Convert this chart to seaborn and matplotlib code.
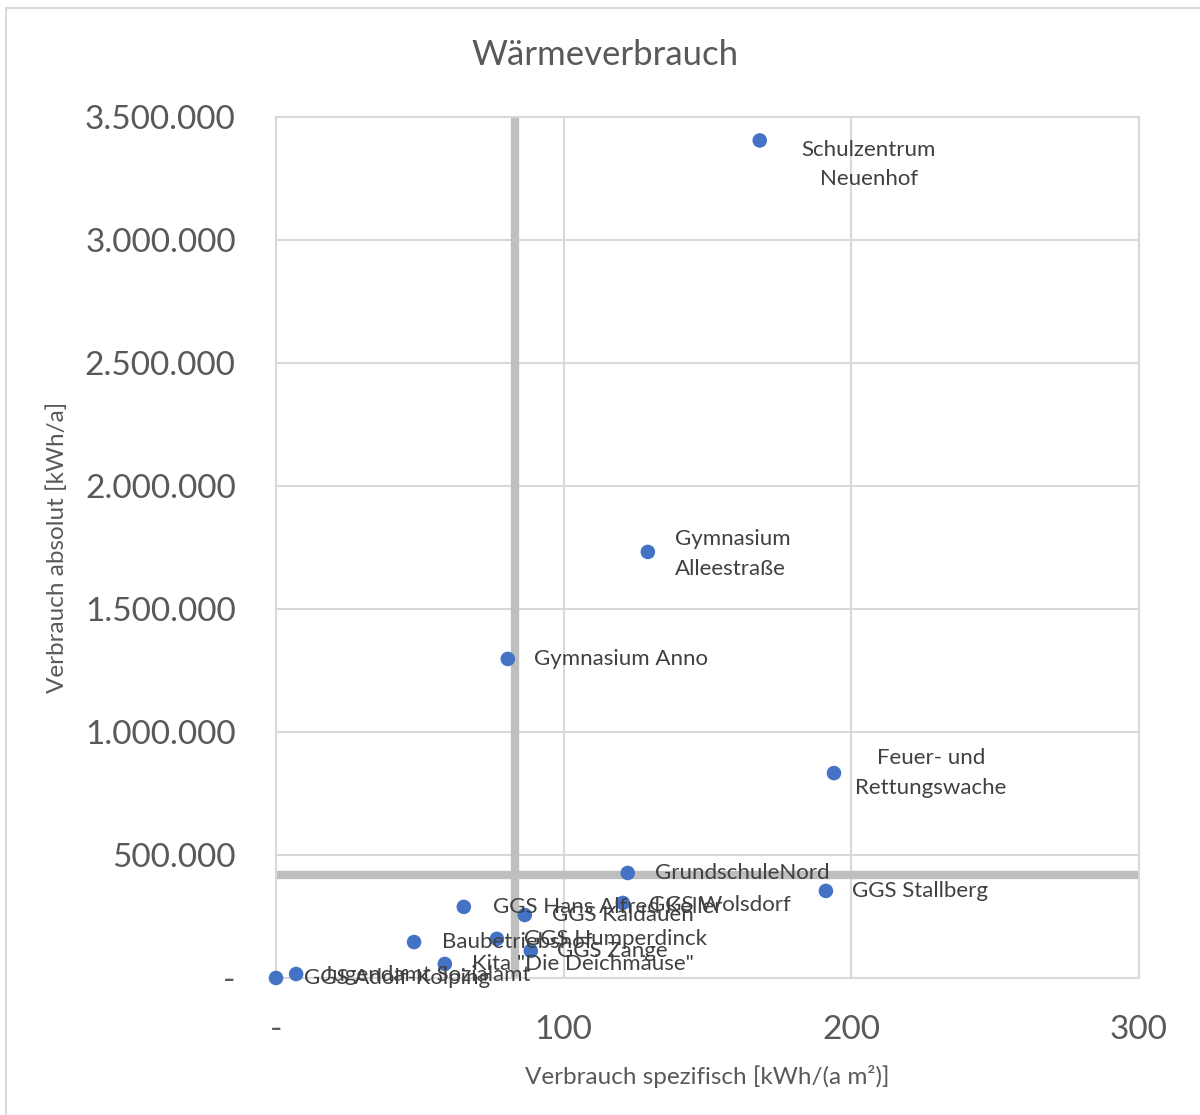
import matplotlib
matplotlib.use("Agg")
import matplotlib.pyplot as plt
from matplotlib.lines import Line2D
from matplotlib.ticker import FuncFormatter, MultipleLocator
import seaborn as sns
import pandas as pd

# Buildings: specific consumption [kWh/(a m²)] and absolute consumption [kWh/a]
gebaeude = [
    "Schulzentrum\nNeuenhof",
    "Gymnasium\nAlleestraße",
    "Gymnasium Anno",
    "Feuer- und\nRettungswache",
    "GrundschuleNord",
    "GGS Stallberg",
    "GGS Wolsdorf",
    "GGS Hans Alfred Keller",
    "GGS Kaldauen",
    "Baubetriebshof",
    "GGS Humperdinck",
    "GGS Zange",
    'Kita "Die Deichmäuse"',
    "Jugendamt Sozialamt",
    "GGS Adolf-Kolping",
]
spezifisch = [168.2, 129.3, 80.6, 194.0, 122.3, 191.2, 120.6, 65.3, 86.5,
              48.0, 76.8, 88.6, 58.7, 7.0, 0.0]
absolut = [3405000, 1732000, 1297000, 833000, 427000, 354000, 305000,
           289000, 256000, 146000, 159000, 110000, 57000, 16000, 0]

# Reference lines (threshold values)
grenze_spezifisch = 83
grenze_absolut = 419000

# Label placement: pixel offsets from each marker and alignment
label_dx = [109, 27, 26, 97, 27, 26, 26, 29, 27, 28, 27, 26, 27, 27, 28]
label_dy = [-24, -2, 0, 0, 0, 0, -2, 0, 0, 0, 0, 0, 0, -1, 0]
label_ha = ["center", "left", "left", "center", "left", "left", "left", "left",
            "left", "left", "left", "left", "left", "left", "left"]

df = pd.DataFrame({"name": gebaeude, "x": spezifisch, "y": absolut})

sns.set_theme(style="white")
plt.rcParams["font.family"] = ["Lato", "DejaVu Sans"]

fig = plt.figure(figsize=(12, 11.15), dpi=100)
ax = fig.add_axes([0.23, 0.1229, 0.949 - 0.23, 0.895 - 0.1229])

grid_c = "#D9D9D9"
ax.set_xlim(0, 300)
ax.set_ylim(0, 3500000)
ax.xaxis.set_major_locator(MultipleLocator(100))
ax.yaxis.set_major_locator(MultipleLocator(500000))
ax.grid(True, color=grid_c, linewidth=1.5, zorder=0)
ax.set_axisbelow(True)
for s in ax.spines.values():
    s.set_color(grid_c)
    s.set_linewidth(1.5)

# Thick grey threshold lines
ax.axvline(grenze_spezifisch, color="#BFBFBF", linewidth=6, zorder=1)
ax.axhline(grenze_absolut, color="#BFBFBF", linewidth=6, zorder=1)

sns.scatterplot(data=df, x="x", y="y", ax=ax, s=110, color="#4472C4",
                edgecolor="none", zorder=3, clip_on=False)

for name, xv, yv, dx, dy, ha in zip(gebaeude, spezifisch, absolut,
                                    label_dx, label_dy, label_ha):
    ax.annotate(name, (xv, yv), xytext=(dx, dy), textcoords="offset pixels",
                ha=ha, va="center", fontsize=16, color="#404040",
                linespacing=1.6, zorder=4, annotation_clip=False)


def de_fmt(v, pos):
    if v == 0:
        return "-"
    return f"{int(v):,}".replace(",", ".")


ax.yaxis.set_major_formatter(FuncFormatter(de_fmt))
ax.xaxis.set_major_formatter(FuncFormatter(de_fmt))
ax.tick_params(axis="both", length=0, labelsize=24, colors="#595959")
ax.tick_params(axis="y", pad=29)
ax.tick_params(axis="x", pad=27)

ax.set_xlabel("Verbrauch spezifisch [kWh/(a m²)]", fontsize=17.5,
              color="#595959", labelpad=14)
ax.set_ylabel("Verbrauch absolut [kWh/a]", fontsize=17.5,
              color="#595959", labelpad=12)

fig.text(0.504, 1 - 55 / 1115, "Wärmeverbrauch", fontsize=25,
         color="#595959", ha="center", va="center")

# Outer chart frame (left and top edges)
fig.add_artist(Line2D([6 / 1200, 6 / 1200], [0, 1 - 8 / 1115],
                      transform=fig.transFigure, color="#D9D9D9", linewidth=1.5))
fig.add_artist(Line2D([6 / 1200, 1], [1 - 8 / 1115, 1 - 8 / 1115],
                      transform=fig.transFigure, color="#D9D9D9", linewidth=1.5))

fig.savefig("out.png", dpi=100)
